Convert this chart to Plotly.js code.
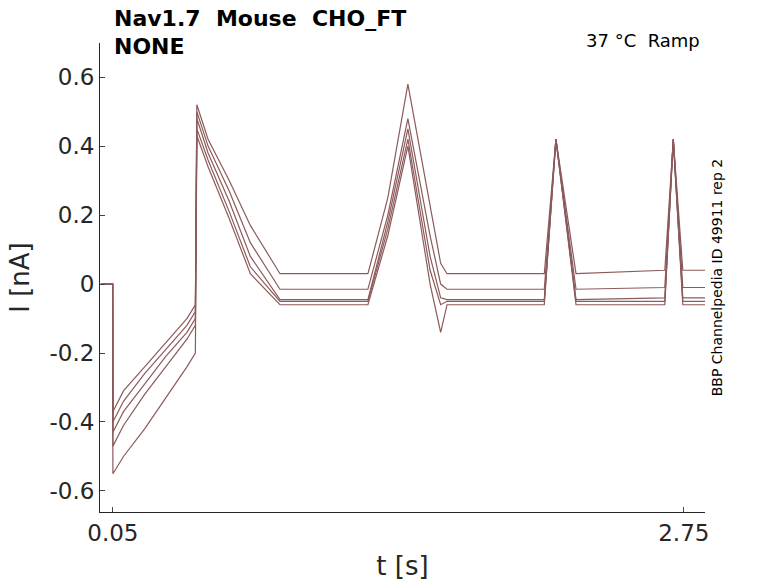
<!DOCTYPE html>
<html><head><meta charset="utf-8">
<script src="https://cdn.plot.ly/plotly-3.0.1.min.js"></script>
<style>body{margin:0}</style></head><body>
<div id="c" style="width:778px;height:583px"></div>
<script>
const times = [-0.007,0.049,0.05,0.1,0.2,0.3,0.4,0.44,0.447,0.5,0.6,0.7,0.84,1.256,1.35,1.445,1.55,1.6,1.63,2.09,2.145,2.24,2.66,2.70,2.745,2.85];
const traceA = [0,0,-0.37,-0.31,-0.24,-0.17,-0.10,-0.06,0.52,0.42,0.30,0.17,0.03,0.03,0.25,0.58,0.22,0.06,0.03,0.03,0.42,0.03,0.04,0.42,0.04,0.04];
const traceB = [0,0,-0.40,-0.34,-0.26,-0.19,-0.12,-0.08,0.50,0.40,0.27,0.12,-0.015,-0.015,0.20,0.48,0.14,0.0,-0.015,-0.015,0.42,-0.015,-0.01,0.42,-0.01,-0.01];
const traceC = [0,0,-0.43,-0.37,-0.29,-0.21,-0.14,-0.10,0.48,0.38,0.24,0.08,-0.045,-0.045,0.18,0.45,0.08,-0.04,-0.045,-0.045,0.42,-0.045,-0.04,0.42,-0.04,-0.04];
const traceD = [0,0,-0.47,-0.41,-0.32,-0.24,-0.16,-0.12,0.45,0.36,0.21,0.05,-0.05,-0.05,0.16,0.42,0.04,-0.06,-0.05,-0.05,0.42,-0.05,-0.05,0.42,-0.05,-0.05];
const traceE = [0,0,-0.55,-0.50,-0.42,-0.33,-0.24,-0.20,0.43,0.34,0.19,0.03,-0.06,-0.06,0.14,0.40,0.00,-0.14,-0.06,-0.06,0.42,-0.06,-0.06,0.42,-0.06,-0.06];
const series=[traceA,traceB,traceC,traceD,traceE];
const color='#8c5a5a';
const data=series.map(y=>({x:times,y:y,type:'scatter',mode:'lines',line:{color:color,width:1.2},showlegend:false}));
Plotly.newPlot('c',data,{
 width:778,height:583,margin:{l:100,r:73,t:43,b:71},
 paper_bgcolor:'white',plot_bgcolor:'white',
 font:{family:'DejaVu Sans',color:'#262626'},
 xaxis:{range:[-0.011,2.85],tickvals:[0.05,2.75],ticktext:['0.05','2.75'],showgrid:false,zeroline:false,showline:true,linecolor:'#262626',ticks:'inside',ticklen:5,tickfont:{size:23},title:{text:'t [s]',font:{size:26},standoff:12}},
 yaxis:{range:[-0.661,0.699],tickvals:[-0.6,-0.4,-0.2,0,0.2,0.4,0.6],ticktext:['-0.6','-0.4','-0.2','0','0.2','0.4','0.6'],showgrid:false,zeroline:false,showline:true,linecolor:'#262626',ticks:'inside',ticklen:5,tickfont:{size:23},title:{text:'I [nA]',font:{size:26},standoff:12}},
 annotations:[
  {xref:'paper',yref:'paper',x:0.02,y:1.053,xanchor:'left',yanchor:'middle',align:'left',showarrow:false,text:'<b>Nav1.7  Mouse  CHO_FT</b>',font:{size:22,color:'black'}},
  {xref:'paper',yref:'paper',x:0.02,y:0.992,xanchor:'left',yanchor:'middle',align:'left',showarrow:false,text:'<b>NONE</b>',font:{size:22,color:'black'}},
  {xref:'paper',yref:'paper',x:0.995,y:1.005,xanchor:'right',yanchor:'middle',showarrow:false,text:'37 °C  Ramp',font:{size:18,color:'black'}},
  {xref:'paper',yref:'paper',x:1.003,y:0.5,xanchor:'left',yanchor:'middle',showarrow:false,textangle:-90,text:'BBP Channelpedia ID 49911 rep 2',font:{size:14,color:'black'}}
 ]
},{displayModeBar:false});
</script></body></html>
